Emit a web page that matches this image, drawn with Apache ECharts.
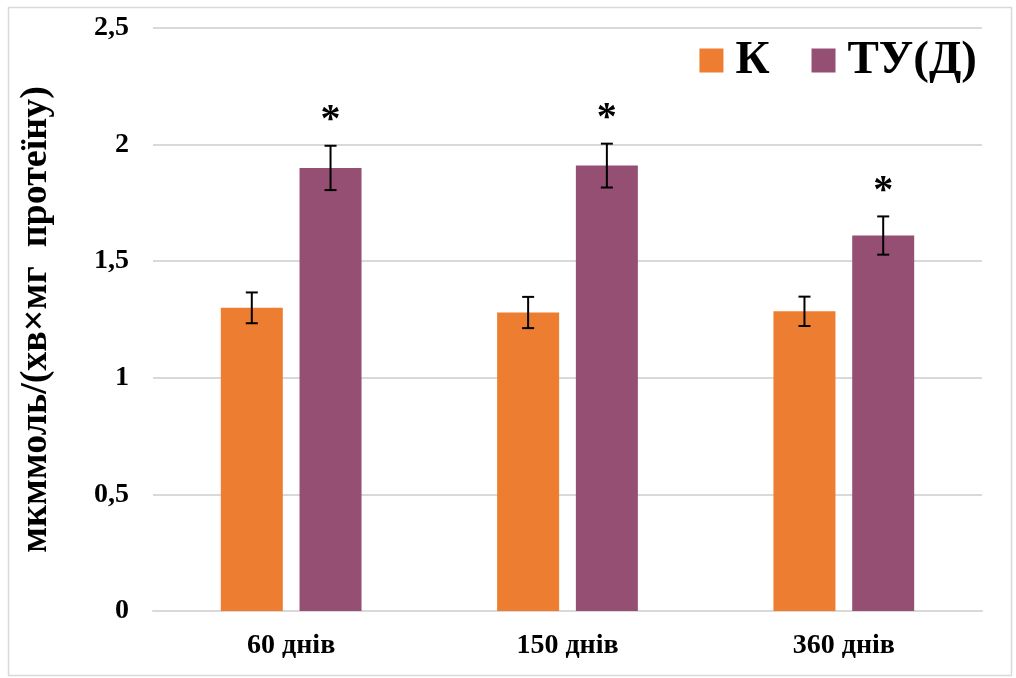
<!DOCTYPE html>
<html>
<head>
<meta charset="utf-8">
<script src="https://cdn.jsdelivr.net/npm/echarts@6/dist/echarts.min.js"></script>
<style>
html,body{margin:0;padding:0;background:#fff;}
#chart{width:1016px;height:678px;}
</style>
</head>
<body>
<div id="chart"></div>
<script>
const categories = ['60 днів', '150 днів', '360 днів'];
const seriesNames = ['К', 'ТУ(Д)'];
const kValues = [1.30, 1.28, 1.285];
const kErrors = [0.066, 0.067, 0.063];
const tuValues = [1.90, 1.91, 1.61];
const tuErrors = [0.095, 0.094, 0.082];
const tuMarks = ['*', '*', '*'];
const yTicks = [0, 0.5, 1, 1.5, 2, 2.5];
const yTitle = 'мкммоль/(хв×мг  протеїну)';

const FONT = '"Liberation Serif", "Times New Roman", serif';
const BAR_W = 62;
const BAR_GAP = 0.27;
const OFFSET = BAR_W * (1 + BAR_GAP) / 2;

function errorSeries(values, errors, dir, marks) {
  const data = values.map((v, i) => [i, v, errors[i], marks ? marks[i] : '']);
  return {
    type: 'custom',
    z: 10,
    silent: true,
    data: data,
    renderItem: function (params, api) {
      const i = api.value(0), v = api.value(1), e = api.value(2);
      const c = api.coord([i, v]);
      const x = c[0] + dir * OFFSET;
      const top = api.coord([i, v + e])[1];
      const bot = api.coord([i, v - e])[1];
      const cap = 6;
      const st = { stroke: '#000', lineWidth: 2 };
      const children = [
        { type: 'line', shape: { x1: x, y1: top, x2: x, y2: bot }, style: st },
        { type: 'line', shape: { x1: x - cap, y1: top, x2: x + cap, y2: top }, style: st },
        { type: 'line', shape: { x1: x - cap, y1: bot, x2: x + cap, y2: bot }, style: st }
      ];
      const m = data[params.dataIndex][3];
      if (m) {
        children.push({
          type: 'text',
          style: { text: m, x: x, y: top - 25, textAlign: 'center', textVerticalAlign: 'middle',
                   font: 'bold 40px ' + FONT, fill: '#000' }
        });
      }
      return { type: 'group', children: children };
    }
  };
}

const chart = echarts.init(document.getElementById('chart'));
chart.setOption({
  animation: false,
  backgroundColor: '#fff',
  grid: { left: 153, right: 34, top: 28, bottom: 67, containLabel: false },
  legend: {
    data: seriesNames,
    right: 34,
    top: 32,
    itemWidth: 24,
    itemHeight: 24,
    itemGap: 42,
    icon: 'rect',
    textStyle: { fontFamily: FONT, fontWeight: 'bold', fontSize: 47, color: '#000', padding: [0, 0, 0, 7] }
  },
  xAxis: {
    type: 'category',
    data: categories,
    axisLine: { show: true, lineStyle: { color: '#d9d9d9', width: 2 } },
    axisTick: { show: false },
    axisLabel: { fontFamily: FONT, fontWeight: 'bold', fontSize: 28, color: '#000', margin: 21 }
  },
  yAxis: {
    type: 'value',
    min: 0, max: 2.5, interval: 0.5,
    name: yTitle,
    nameLocation: 'middle',
    nameGap: 98,
    nameRotate: 90,
    nameTextStyle: { fontFamily: FONT, fontWeight: 'bold', fontSize: 38, color: '#000' },
    axisLine: { show: false },
    axisTick: { show: false },
    splitLine: { lineStyle: { color: '#d9d9d9', width: 2 } },
    axisLabel: {
      fontFamily: FONT, fontWeight: 'bold', fontSize: 28, color: '#000', margin: 24,
      formatter: function (v) { return yTicks.includes(v) ? String(v).replace('.', ',') : ''; }
    }
  },
  series: [
    { name: seriesNames[0], type: 'bar', data: kValues, barWidth: BAR_W, barGap: (BAR_GAP * 100) + '%',
      itemStyle: { color: '#ed7d31' } },
    { name: seriesNames[1], type: 'bar', data: tuValues, barWidth: BAR_W,
      itemStyle: { color: '#954f72' } },
    errorSeries(kValues, kErrors, -1, null),
    errorSeries(tuValues, tuErrors, 1, tuMarks)
  ],
  graphic: [
    { type: 'rect', shape: { x: 8.5, y: 7.5, width: 1003, height: 668 },
      style: { fill: 'none', stroke: '#d9d9d9', lineWidth: 1.5 }, silent: true }
  ]
});
</script>
</body>
</html>
